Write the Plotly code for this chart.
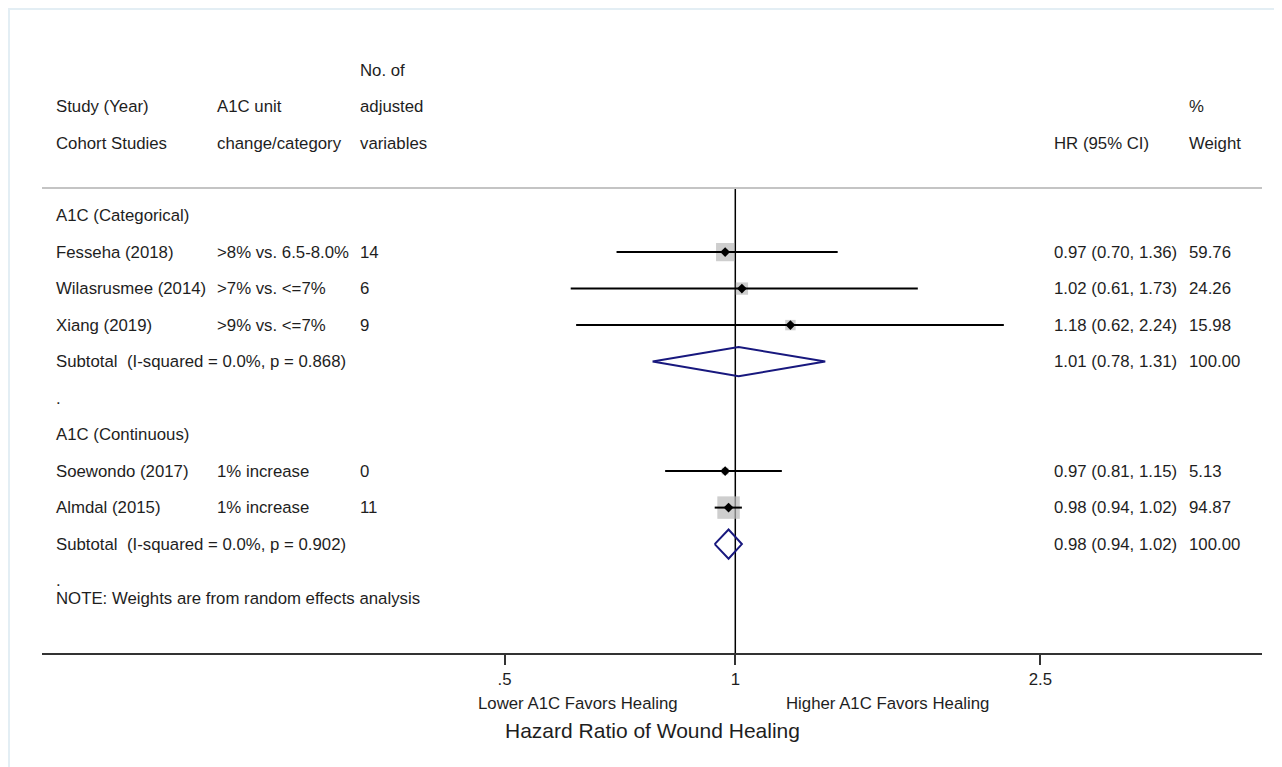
import plotly.graph_objects as go
import math

# ---------------- data ----------------
studies = ["Fesseha (2018)", "Wilasrusmee (2014)", "Xiang (2019)", "Soewondo (2017)", "Almdal (2015)"]
a1c_units = [">8% vs. 6.5-8.0%", ">7% vs. <=7%", ">9% vs. <=7%", "1% increase", "1% increase"]
n_adjusted = ["14", "6", "9", "0", "11"]
hr = [0.97, 1.02, 1.18, 0.97, 0.98]
ci_low = [0.70, 0.61, 0.62, 0.81, 0.94]
ci_high = [1.36, 1.73, 2.24, 1.15, 1.02]
weights = [59.76, 24.26, 15.98, 5.13, 94.87]
study_rows = [1, 2, 3, 7, 8]

group_labels = ["A1C (Categorical)", "A1C (Continuous)"]
group_rows = [0, 6]

sub_labels = ["Subtotal  (I-squared = 0.0%, p = 0.868)", "Subtotal  (I-squared = 0.0%, p = 0.902)"]
sub_hr = [1.01, 0.98]
sub_low = [0.78, 0.94]
sub_high = [1.31, 1.02]
sub_weights = [100.00, 100.00]
sub_rows = [4, 9]

spacer_rows = [5, 10]
note_row = 10.5
note_text = "NOTE: Weights are from random effects analysis"

tick_vals = [0.5, 1, 2.5]
tick_text = [".5", "1", "2.5"]
null_hr = 1

# ---------------- geometry (reference-page pixels) ----------------
OFF = 8                       # page body margin offset
PAGE_W, PAGE_H = 1282, 767
PLOT_L, PLOT_R, PLOT_T, PLOT_B = 42, 1262, 188, 653   # plot area on the page

W, H = PAGE_W - OFF, PAGE_H - OFF
L = PLOT_L - OFF
R = W - (PLOT_R - OFF)
T = PLOT_T - OFF
B = H - (PLOT_B - OFF)
PW = PLOT_R - PLOT_L
PH = PLOT_B - PLOT_T

FONT = "Liberation Sans, Arial, sans-serif"
TXT = "#1e1e1e"
FS = 16.8


def px(xpage):
    return (xpage - PLOT_L) / PW


def py(ypage):
    return (PLOT_B - ypage) / PH


fig = go.Figure()

# CI lines
xs, ys = [], []
for l, h, r in zip(ci_low, ci_high, study_rows):
    xs += [l, h, None]
    ys += [r, r, None]

# weight boxes
box_sizes = [2 + 2.1 * math.sqrt(w) for w in weights]
fig.add_trace(go.Scatter(x=hr, y=study_rows, mode="markers",
                         marker=dict(symbol="square", size=box_sizes, color="#b9b9b9",
                                     line=dict(width=0)),
                         hoverinfo="skip", showlegend=False))
fig.add_trace(go.Scatter(x=xs, y=ys, mode="lines", line=dict(color="black", width=2),
                         hoverinfo="skip", showlegend=False))
# point estimates
fig.add_trace(go.Scatter(x=hr, y=study_rows, mode="markers",
                         marker=dict(symbol="diamond", size=7.5, color="black"),
                         hoverinfo="skip", showlegend=False))

# subtotal diamonds
for e, l, h, r in zip(sub_hr, sub_low, sub_high, sub_rows):
    fig.add_trace(go.Scatter(x=[l, e, h, e, l], y=[r, r - 0.4, r, r + 0.4, r], mode="lines",
                             line=dict(color="#18187e", width=2),
                             hoverinfo="skip", showlegend=False))

# null line
fig.add_shape(type="line", xref="x", yref="paper", x0=null_hr, x1=null_hr, y0=0, y1=1,
              line=dict(color="black", width=1.5), layer="below")

# header separator line
fig.add_shape(type="line", xref="paper", yref="paper", x0=0, x1=1, y0=1, y1=1,
              line=dict(color="#c4c4c4", width=2))

# faint outer frame
fig.add_shape(type="rect", xref="paper", yref="paper",
              x0=px(OFF + 1), x1=px(1300), y0=py(790), y1=py(OFF + 1),
              line=dict(color="#e3eef4", width=2), fillcolor="rgba(0,0,0,0)")

ann = []


def text(x, y, s, yref="paper", size=FS, xanchor="left"):
    ann.append(dict(x=x, y=y, xref="paper", yref=yref, text=s, showarrow=False,
                    xanchor=xanchor, yanchor="middle", font=dict(family=FONT, size=size, color=TXT)))


c1, c2, c3, c4, c5 = px(54), px(215), px(358), px(1052), px(1187)
# headers
text(c3, py(70.7), "No. of")
text(c1, py(106.5), "Study (Year)")
text(c2, py(106.5), "A1C unit")
text(c3, py(106.5), "adjusted")
text(c5, py(106.5), "%")
text(c1, py(143.5), "Cohort Studies")
text(c2, py(143.5), "change/category")
text(c3, py(143.5), "variables")
text(c4, py(143.5), "HR (95% CI)")
text(c5, py(143.5), "Weight")

for g, r in zip(group_labels, group_rows):
    text(c1, r, g, yref="y")
for s, u, n, e, l, h, w, r in zip(studies, a1c_units, n_adjusted, hr, ci_low, ci_high, weights, study_rows):
    text(c1, r, s, yref="y")
    text(c2, r, u, yref="y")
    text(c3, r, n, yref="y")
    text(c4, r, f"{e:.2f} ({l:.2f}, {h:.2f})", yref="y")
    text(c5, r, f"{w:.2f}", yref="y")
for s, e, l, h, w, r in zip(sub_labels, sub_hr, sub_low, sub_high, sub_weights, sub_rows):
    text(c1, r, s, yref="y")
    text(c4, r, f"{e:.2f} ({l:.2f}, {h:.2f})", yref="y")
    text(c5, r, f"{w:.2f}", yref="y")
for r in spacer_rows:
    text(c1, r, ".", yref="y")
text(c1, note_row, note_text, yref="y")

# bottom labels
text(px(578), py(703), "Lower A1C Favors Healing", xanchor="center")
text(px(887), py(703), "Higher A1C Favors Healing", xanchor="center")
text(px(652), py(730), "Hazard Ratio of Wound Healing", size=21, xanchor="center")

# axis range in log10 units from page geometry
ppl = 766.7      # pixels per log10 unit
x1pix = 735.3    # page x of HR = 1
xr = [(PLOT_L - x1pix) / ppl, (PLOT_R - x1pix) / ppl]
row0pix, row_sp = 215.6, 36.5
yr = [(PLOT_B - row0pix) / row_sp, (PLOT_T - row0pix) / row_sp]

fig.update_layout(
    width=W, height=H,
    margin=dict(l=L, r=R, t=T, b=B, pad=0),
    paper_bgcolor="white", plot_bgcolor="white",
    annotations=ann,
    showlegend=False,
    xaxis=dict(type="log", range=xr, tickvals=tick_vals, ticktext=tick_text,
               showline=True, linecolor="#333333", linewidth=2, ticks="outside",
               ticklen=10, tickwidth=1.5, tickcolor="#333333", showgrid=False, zeroline=False,
               tickfont=dict(family=FONT, size=FS, color=TXT), fixedrange=True),
    yaxis=dict(range=yr, showgrid=False, zeroline=False, showticklabels=False,
               showline=False, fixedrange=True),
)

fig.write_html("out.html")
